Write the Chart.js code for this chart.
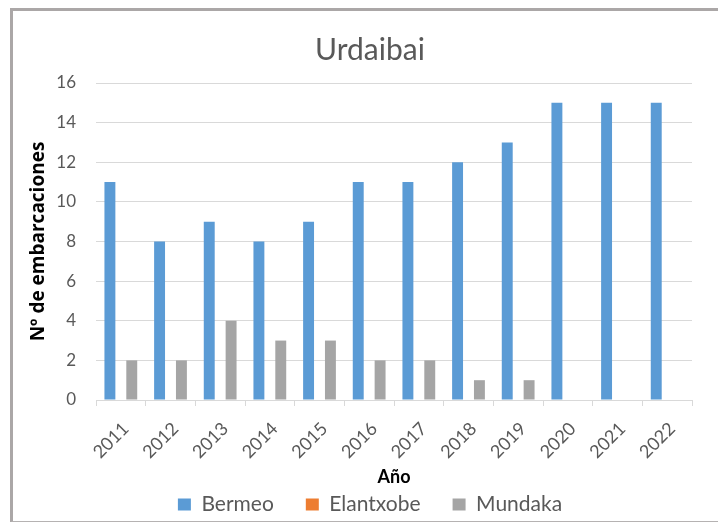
<!DOCTYPE html>
<html>
<head>
<meta charset="utf-8">
<script src="https://cdn.jsdelivr.net/npm/chart.js@4.4.0/dist/chart.umd.min.js"></script>
<style>
  html, body { margin: 0; padding: 0; background: #fff; overflow: hidden; }
  #caja { position: relative; width: 718px; height: 522px; }
  #marco {
    position: absolute; left: 10px; top: 8px; width: 720px; height: 514px;
    box-sizing: border-box; pointer-events: none;
    border-top: 3px solid #aba7a7; border-left: 3px solid #aba7a7; border-bottom: 1px solid #b5b2b2;
  }
</style>
</head>
<body>
<div id="caja">
  <canvas id="graficoUrdaibai"></canvas>
  <div id="marco"></div>
</div>
<script>
// Embarcaciones por puerto y año
const anios = ['2011', '2012', '2013', '2014', '2015', '2016', '2017', '2018', '2019', '2020', '2021', '2022'];
const bermeo = [11, 8, 9, 8, 9, 11, 11, 12, 13, 15, 15, 15];
const elantxobe = [0, 0, 0, 0, 0, 0, 0, 0, 0, 0, 0, 0];
const mundaka = [2, 2, 4, 3, 3, 2, 2, 1, 1, 0, 0, 0];
const marcasY = [0, 2, 4, 6, 8, 10, 12, 14, 16];

const gris = '#595959';
const rejilla = '#d9d9d9';
const fuente = 'Lato';

new Chart(document.getElementById('graficoUrdaibai'), {
  type: 'bar',
  data: {
    labels: anios,
    datasets: [
      { label: 'Bermeo', data: bermeo, backgroundColor: '#5b9bd5', borderWidth: 0 },
      { label: 'Elantxobe', data: elantxobe, backgroundColor: '#ed7d31', borderWidth: 0 },
      { label: 'Mundaka', data: mundaka, backgroundColor: '#a5a5a5', borderWidth: 0 }
    ]
  },
  options: {
    responsive: true,
    maintainAspectRatio: false,
    animation: false,
    datasets: { bar: { categoryPercentage: 0.66, barPercentage: 1 } },
    layout: { padding: { top: 10, left: 22, right: 0, bottom: -3 } },
    plugins: {
      title: {
        display: true,
        text: 'Urdaibai',
        color: gris,
        font: { family: fuente, size: 30, weight: 'normal' },
        padding: { top: 22, bottom: 15 }
      },
      legend: {
        position: 'bottom',
        labels: {
          color: gris,
          font: { family: fuente, size: 21 },
          boxWidth: 13,
          boxHeight: 12,
          padding: 32
        }
      },
      tooltip: { enabled: false }
    },
    scales: {
      x: {
        grid: { display: true, drawOnChartArea: false, color: rejilla, tickLength: 6 },
        border: { display: true, color: rejilla },
        ticks: {
          color: gris,
          font: { family: fuente, size: 18 },
          minRotation: 45,
          maxRotation: 45,
          padding: 12,
          labelOffset: 5
        },
        title: {
          display: true,
          text: 'Año',
          color: '#000',
          font: { family: fuente, size: 18, weight: 'bold' },
          padding: { top: 0, bottom: -26 }
        },
        // alto fijo: la leyenda empieza justo debajo de las etiquetas
        afterFit: s => { s.height = 62; }
      },
      y: {
        min: 0,
        max: 16,
        afterBuildTicks: s => { s.ticks = marcasY.map(v => ({ value: v })); },
        grid: { color: rejilla, drawTicks: false },
        border: { display: false },
        ticks: { color: gris, font: { family: fuente, size: 17 }, padding: 20 },
        title: {
          display: true,
          text: 'Nº de embarcaciones',
          color: '#000',
          font: { family: 'Open Sans', size: 19, weight: 'bold' },
          padding: { top: 5, bottom: 0 }
        },
        afterFit: s => { s.width = 74; }
      },
      // margen derecho del área de trazado
      derecha: {
        type: 'linear',
        position: 'right',
        grid: { display: false },
        border: { display: false },
        ticks: { display: false },
        afterFit: s => { s.width = 26; }
      }
    }
  }
});
</script>
</body>
</html>
